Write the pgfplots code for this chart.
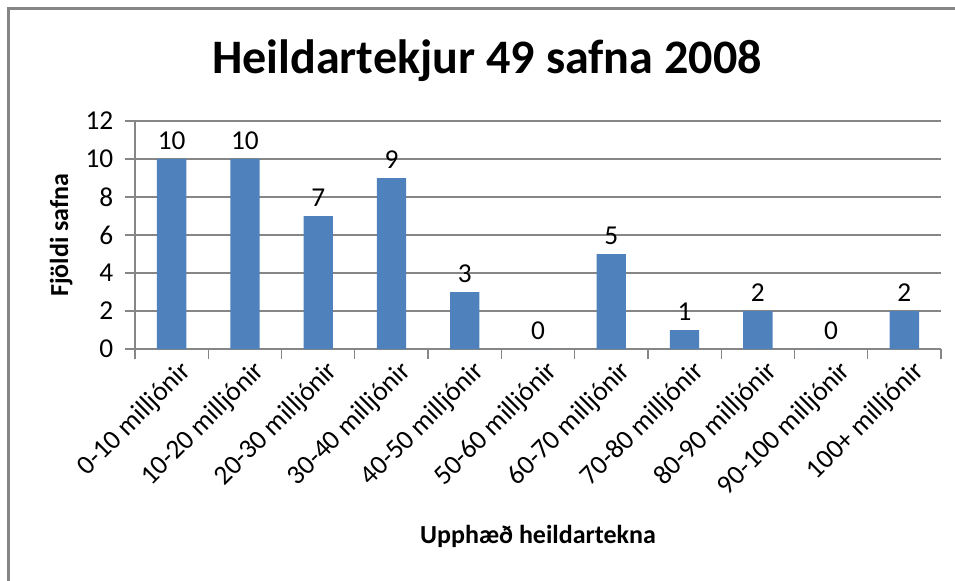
\documentclass[border=0pt]{standalone}
\usepackage{fontspec}
\setmainfont{Carlito}
\usepackage{pgfplots}
\pgfplotsset{compat=1.18}
\definecolor{barblue}{HTML}{4F81BD}
\definecolor{axgray}{HTML}{868686}
\begin{document}
\begin{tikzpicture}
\path[use as bounding box] (0pt,0pt) rectangle (367.29pt,-223.07pt);
\begin{scope}
\clip (0pt,0pt) rectangle (367.29pt,-223.07pt);
\draw[axgray, line width=1.1pt] (3.27pt,-3.27pt) rectangle (380pt,-240pt);
\end{scope}
\node[anchor=base, font=\bfseries\fontsize{18.5}{22}\selectfont, inner sep=0pt] at (187.3pt,-28.1pt) {Heildartekjur 49 safna 2008};
\begin{axis}[
  at={(51.92pt,-134.23pt)}, anchor=south west,
  scale only axis, width=310pt, height=87.7pt,
  xmin=-0.5, xmax=10.5, ymin=0, ymax=12,
  ytick={0,2,...,12},
  xtick={0,...,10},
  xticklabels={0-10 milljónir,10-20 milljónir,20-30 milljónir,30-40 milljónir,40-50 milljónir,50-60 milljónir,60-70 milljónir,70-80 milljónir,80-90 milljónir,90-100 milljónir,100+ milljónir},
  minor xtick={-0.5,0.5,...,10.5},
  axis x line*=bottom, axis y line*=left,
  axis line style={axgray, line width=0.5pt},
  ymajorgrids, grid style={axgray, line width=0.5pt},
  major x tick style={draw=none},
  minor x tick style={axgray, line width=0.5pt},
  ytick style={axgray, line width=0.5pt},
  tick align=outside,
  major tick length=3.85pt, minor tick length=3.85pt,
  tick label style={font=\fontsize{10.5}{12}\selectfont, text=black},
  /pgf/number format/assume math mode=true,
  xticklabel style={rotate=45, anchor=east, xshift=5.5pt, yshift=-6.4pt},
  yticklabel style={xshift=-1pt},
  ylabel={Fjöldi safna},
  xlabel={Upphæð heildartekna},
  label style={font=\bfseries\fontsize{10}{12}\selectfont},
  ylabel style={at={(axis description cs:-0.0831,0.5)}, anchor=base, rotate=0},
  xlabel style={at={(axis description cs:0.5,-0.851)}, anchor=base},
  ybar, bar width=0.4,
  nodes near coords,
  nodes near coords style={font=\fontsize{10.5}{12}\selectfont, text=black},
  clip=false,
]
\addplot[fill=barblue, draw=none] coordinates {
(0,10) (1,10) (2,7) (3,9) (4,3) (5,0) (6,5) (7,1) (8,2) (9,0) (10,2)
};
\end{axis}
\end{tikzpicture}
\end{document}
